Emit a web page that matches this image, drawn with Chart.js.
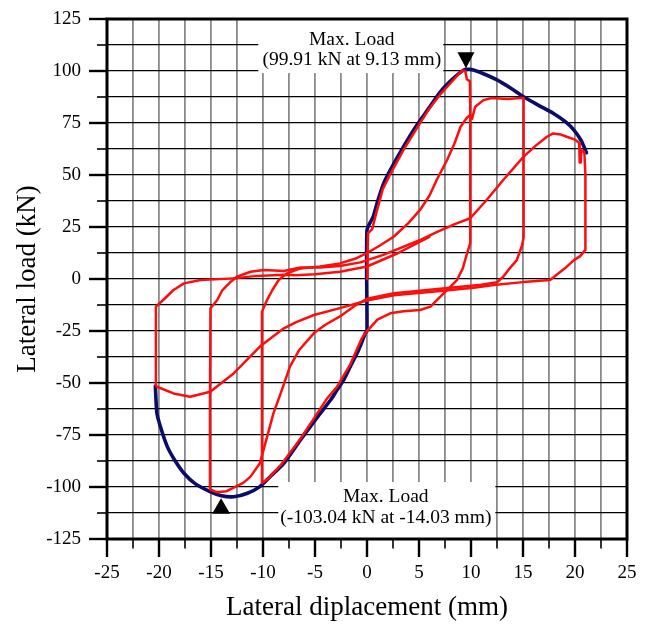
<!DOCTYPE html>
<html>
<head>
<meta charset="utf-8">
<script src="https://cdn.jsdelivr.net/npm/chart.js@4.4.1/dist/chart.umd.min.js"></script>
<style>
  html, body { margin: 0; padding: 0; background: #fff; }
  #wrap { width: 648px; height: 626px; }
</style>
</head>
<body>
<div id="wrap"><canvas id="c" width="648" height="626"></canvas></div>
<script>
// ---------------- DATA ----------------
const xTickValues = [-25, -20, -15, -10, -5, 0, 5, 10, 15, 20, 25];
const yTickValues = [-125, -100, -75, -50, -25, 0, 25, 50, 75, 100, 125];

// first cycle (+/-10 mm)
const cycle10Disp = [0, 0.05, 0.1, 0.5, 0.8, 1.5, 2.3, 3.5, 4.8, 6.0, 7.0, 8.0, 8.8, 9.2, 9.45, 9.6, 9.9, 9.93, 9.93, 9.93, 9.6, 9.2, 8.65, 7.7, 7.05, 6.1, 5.1, 3.5, 2.24, 1.0, 0.2, 0, -0.5, -1.6, -2.9, -3.85, -5.1, -6.5, -8.3, -9.5, -10.1, -10.1, -10.1, -9.6, -9.1, -8.5, -7.7, -6.4];
const cycle10Load = [0, 10, 22, 24, 30, 43, 51, 62, 72.5, 82, 88.5, 94, 98.5, 100.3, 99.9, 96, 95, 80, 40, 17.3, 12, 5, -0.5, -5.3, -8.5, -13.3, -14.9, -15.5, -16.5, -19.5, -24, -25, -28.5, -41, -52, -57.5, -67, -77.5, -89.5, -96, -98, -60, -15.7, -10, -5.3, -0.5, 2.7, 5.1];

// second cycle (+/-15 mm)
const cycle15Disp = [-6.4, -4.5, -2.6, -1.0, 0, 1.2, 2.56, 4.0, 5.1, 6.0, 6.7, 7.7, 8.4, 9.0, 9.6, 9.93, 10.1, 10.4, 11.2, 12.0, 13.5, 14.8, 15.06, 15.06, 15.06, 14.9, 14.4, 13.7, 13.1, 12.5, 11.0, 9.0, 5.8, 2.6, 0, -1.2, -2.6, -4.0, -5.1, -6.5, -7.4, -8.3, -9.0, -9.6, -10.3, -11.2, -11.9, -13.5, -14.5, -15.1, -15.1, -15.05, -14.4, -13.9, -13.1, -12.5];
const cycle15Load = [5.1, 6.0, 7.5, 10, 12.5, 16, 20.3, 27, 33.2, 40, 47.6, 57.2, 65, 73.2, 77.5, 78.8, 77, 82.8, 86, 87, 86.5, 87, 87, 50, 20, 16, 9.1, 5, 1.1, -1.6, -2.8, -3.7, -5.3, -6.8, -9.5, -13, -18, -22, -26, -34, -42, -55, -64.6, -75.8, -88.6, -95, -98, -102, -102.5, -101, -60, -14.1, -10.1, -5.3, -1.3, 1.1];

// third cycle (+/-20 mm)
const cycle20Disp = [-12.5, -11.2, -9.9, -8.0, -6.4, -4.5, -2.6, -0.64, 1.5, 3.0, 5.0, 6.7, 8.5, 9.93, 11.5, 13.1, 15.06, 16.2, 17.3, 17.9, 18.6, 19.2, 20.0, 20.4, 20.45, 20.55, 20.6, 20.9, 21.0, 21.0, 20.5, 19.9, 19.0, 17.6, 15.0, 12.2, 10.25, 7.05, 2.56, 0, -2.6, -5.1, -6.8, -8.0, -10.3, -12.8, -15.07, -17.0, -18.6, -20.2, -20.3, -20.3, -19.6, -18.6, -17.6, -16.0, -12.8];
const cycle20Load = [1.1, 3.5, 4.3, 3.8, 5.5, 5.5, 6.3, 8.0, 11.5, 14.5, 18.5, 22.5, 26.5, 29.2, 38, 47.6, 58.8, 64, 68.4, 70, 69.5, 68.4, 67, 65.5, 56, 56, 62, 61, 50, 14, 11, 9.1, 5, -0.5, -1.5, -2.9, -4.2, -5.8, -7.8, -10.3, -14, -17.3, -20.7, -23.7, -32.5, -45.3, -54.2, -56.6, -55, -51.8, -51, -13.3, -10.1, -5.3, -2.1, -0.5, 0.3];

// final reloading branch
const finalDisp = [-12.8, -10.6, -8.0, -6.9, -5.0, -2.6, 0, 3.0, 6.0];
const finalLoad = [0.3, 1.5, 2.0, 1.8, 2.3, 3.5, 6.0, 12.5, 20.2];

// envelope curve
const envelopeDisp = [-20.35, -20.2, -19.8, -19.2, -18.5, -17.6, -16.5, -15.1, -14.0, -12.8, -11.5, -10.3, -9.2, -8.0, -6.4, -4.5, -3.5, -2.9, -2.25, -1.6, -0.8, -0.15, 0, 0, 0.6, 1.0, 1.6, 2.24, 3.5, 4.8, 6.0, 7.05, 8.2, 9.3, 9.9, 11.2, 12.5, 13.8, 15.06, 16.5, 17.9, 19.1, 19.9, 20.6, 21.1];
const envelopeLoad = [-51.5, -64.6, -72, -80.6, -87, -93.4, -98.5, -102.2, -104.2, -104.7, -103, -99.8, -94.5, -88.6, -77.4, -64.6, -58.2, -53.5, -48.6, -42, -34, -26, -25, 23.5, 30, 37, 46, 52.4, 63.5, 74, 82.5, 90, 96, 100.5, 100.8, 98.7, 95.7, 91.8, 87.6, 83.5, 79.7, 75.5, 71.6, 66.5, 60.7];

// peak annotations
const peakPositive = { load: 99.91, disp: 9.13 };
const peakNegative = { load: -103.04, disp: -14.03 };

// ---------------- CHART ----------------
const pts = (xs, ys) => xs.map((v, i) => ({ x: v, y: ys[i] }));
const RED = '#ff0d0d';
const NAVY = '#0b0b68';
const SERIF = '"Liberation Serif", "Times New Roman", serif';

function redSet(xs, ys) {
  return { data: pts(xs, ys), showLine: true, borderColor: RED, borderWidth: 2.5,
           pointRadius: 0, tension: 0, borderJoinStyle: 'round', borderCapStyle: 'round', fill: false };
}

const decorPlugin = {
  id: 'decor',
  afterDatasetsDraw(chart) {
    const { ctx, chartArea: a, scales: { x, y } } = chart;
    ctx.save();
    // annotation boxes (white, hiding grid)
    ctx.fillStyle = '#fff';
    const bx1 = x.getPixelForValue(-10.45), bx2 = x.getPixelForValue(7.33);
    ctx.fillRect(bx1, a.top, bx2 - bx1, y.getPixelForValue(99.0) - a.top);
    const cx1 = x.getPixelForValue(-8.53), cx2 = x.getPixelForValue(12.34);
    const cyTop = y.getPixelForValue(-97.6);
    ctx.fillRect(cx1, cyTop, cx2 - cx1, a.bottom - cyTop);

    // texts
    ctx.fillStyle = '#000';
    ctx.font = '19.5px ' + SERIF;
    ctx.textAlign = 'center';
    ctx.textBaseline = 'alphabetic';
    const t1x = (bx1 + bx2) / 2 + 1;
    ctx.fillText('Max. Load', t1x, y.getPixelForValue(112.5));
    ctx.fillText('(' + peakPositive.load.toFixed(2) + ' kN at ' + peakPositive.disp.toFixed(2) + ' mm)', t1x, y.getPixelForValue(102.9));
    const t2x = (cx1 + cx2) / 2 - 1;
    ctx.fillText('Max. Load', t2x, y.getPixelForValue(-107.2));
    ctx.fillText('(' + peakNegative.load.toFixed(2) + ' kN at ' + peakNegative.disp.toFixed(2) + ' mm)', t2x, y.getPixelForValue(-117.3));

    // triangles
    const px = x.getPixelForValue(peakPositive.disp) + 4;
    const py = y.getPixelForValue(peakPositive.load) - 3;
    ctx.beginPath();
    ctx.moveTo(px, py); ctx.lineTo(px - 8.5, py - 16); ctx.lineTo(px + 8.5, py - 16); ctx.closePath();
    ctx.fill();
    const nx = x.getPixelForValue(peakNegative.disp);
    const ny = y.getPixelForValue(peakNegative.load) + 5;
    ctx.beginPath();
    ctx.moveTo(nx, ny); ctx.lineTo(nx - 9, ny + 15.5); ctx.lineTo(nx + 9, ny + 15.5); ctx.closePath();
    ctx.fill();

    // tick marks (major longer, minor shorter) from the scales' ticks
    ctx.strokeStyle = '#000';
    x.ticks.forEach(t => {
      const p = x.getPixelForValue(t.value);
      const major = Math.abs(t.value % 5) < 1e-9;
      ctx.lineWidth = major ? 2.4 : 1.6;
      ctx.beginPath();
      ctx.moveTo(p, a.bottom);
      ctx.lineTo(p, a.bottom + (major ? 18 : 9.5));
      ctx.stroke();
    });
    y.ticks.forEach(t => {
      const p = y.getPixelForValue(t.value);
      const major = Math.abs(t.value % 25) < 1e-9;
      ctx.lineWidth = major ? 2.4 : 1.6;
      ctx.beginPath();
      ctx.moveTo(a.left, p);
      ctx.lineTo(a.left - (major ? 18 : 10), p);
      ctx.stroke();
    });
    // frame
    ctx.lineWidth = 3;
    ctx.strokeRect(a.left, a.top, a.right - a.left, a.bottom - a.top);
    ctx.restore();
  }
};

new Chart(document.getElementById('c'), {
  type: 'scatter',
  data: {
    datasets: [
      redSet(cycle10Disp, cycle10Load),
      redSet(cycle15Disp, cycle15Load),
      redSet(cycle20Disp, cycle20Load),
      redSet(finalDisp, finalLoad),
      { data: pts(envelopeDisp, envelopeLoad), showLine: true, borderColor: NAVY, borderWidth: 3.6,
        pointRadius: 0, tension: 0.2, borderJoinStyle: 'round', borderCapStyle: 'round', fill: false }
    ]
  },
  options: {
    responsive: false,
    animation: false,
    devicePixelRatio: 1,
    layout: { padding: { top: 19, right: 21, left: 0, bottom: 0 } },
    plugins: { legend: { display: false }, tooltip: { enabled: false } },
    scales: {
      x: {
        type: 'linear', min: -25, max: 25,
        afterFit(s) { s.height = 87; s.paddingLeft = 0; s.paddingRight = 0; },
        ticks: {
          stepSize: 2.5, autoSkip: false, maxRotation: 0, padding: 23, color: '#000',
          font: { family: SERIF, size: 19 },
          callback: v => xTickValues.includes(v) ? String(v) : ''
        },
        grid: { color: '#8a8a8a', lineWidth: 1.8, drawTicks: false },
        border: { display: false },
        title: { display: true, text: 'Lateral diplacement (mm)', color: '#000',
                 font: { family: SERIF, size: 27 }, padding: { top: 0, bottom: 2 } }
      },
      y: {
        type: 'linear', min: -125, max: 125,
        afterFit(s) { s.width = 107; s.paddingTop = 0; s.paddingBottom = 0; },
        ticks: {
          stepSize: 12.5, autoSkip: false, padding: 26, color: '#000',
          font: { family: SERIF, size: 19 },
          callback: v => yTickValues.includes(v) ? String(v) : ''
        },
        grid: { color: '#000', lineWidth: 1.2, drawTicks: false },
        border: { display: false },
        title: { display: true, text: 'Lateral load (kN)', color: '#000',
                 font: { family: SERIF, size: 27 }, padding: { top: 12, bottom: 0 } }
      }
    }
  },
  plugins: [decorPlugin]
});
</script>
</body>
</html>
